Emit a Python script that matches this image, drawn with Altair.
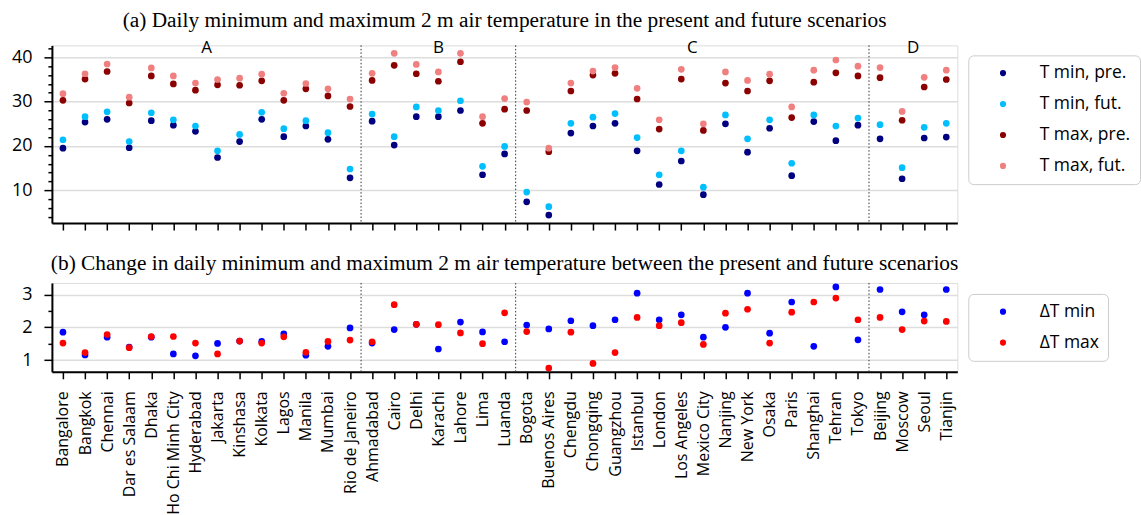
import json
import altair as alt
import pandas as pd

cities = ["Bangalore", "Bangkok", "Chennai", "Dar es Salaam", "Dhaka", "Ho Chi Minh City",
          "Hyderabad", "Jakarta", "Kinshasa", "Kolkata", "Lagos", "Manila", "Mumbai",
          "Rio de Janeiro",
          "Ahmadabad", "Cairo", "Delhi", "Karachi", "Lahore", "Lima", "Luanda",
          "Bogota", "Buenos Aires", "Chengdu", "Chongqing", "Guangzhou", "Istanbul", "London",
          "Los Angeles", "Mexico City", "Nanjing", "New York", "Osaka", "Paris", "Shanghai",
          "Tehran", "Tokyo",
          "Beijing", "Moscow", "Seoul", "Tianjin"]
group_names = ["A", "B", "C", "D"]
group_sizes = [14, 7, 16, 4]

tmin_pre = [19.5, 25.4, 26.0, 19.6, 25.7, 24.7, 23.3, 17.4, 21.0, 26.0, 22.1, 24.5, 21.5, 12.8,
            25.6, 20.2, 26.6, 26.6, 28.0, 13.5, 18.2,
            7.4, 4.4, 22.9, 24.5, 25.1, 18.9, 11.3, 16.6, 9.0, 25.0, 18.6, 24.0, 13.3, 25.5, 21.2, 24.7,
            21.6, 12.6, 21.8, 22.0]
tmin_fut = [21.4, 26.6, 27.7, 21.0, 27.5, 25.9, 24.5, 18.9, 22.6, 27.6, 23.9, 25.7, 23.0, 14.8,
            27.2, 22.1, 28.8, 28.0, 30.2, 15.4, 19.9,
            9.6, 6.3, 25.1, 26.5, 27.3, 21.9, 13.5, 18.9, 10.7, 27.0, 21.6, 25.9, 16.1, 27.0, 24.5, 26.3,
            24.8, 15.1, 24.2, 25.1]
tmax_pre = [30.3, 35.1, 36.8, 29.7, 35.8, 34.0, 32.6, 33.8, 33.7, 34.7, 30.3, 32.9, 31.3, 28.9,
            34.8, 38.2, 36.3, 34.6, 39.0, 25.1, 28.3,
            28.0, 18.7, 32.4, 36.0, 36.4, 30.6, 23.8, 35.1, 23.5, 34.2, 32.4, 34.7, 26.4, 34.4, 36.5, 35.8,
            35.4, 25.8, 33.3, 35.0]
tmax_fut = [31.8, 36.3, 38.5, 31.0, 37.6, 35.8, 34.2, 35.0, 35.3, 36.2, 31.9, 34.1, 32.9, 30.6,
            36.4, 40.9, 38.4, 36.7, 40.9, 26.6, 30.7,
            29.9, 19.5, 34.2, 36.9, 37.7, 33.0, 25.9, 37.3, 25.0, 36.7, 34.8, 36.2, 28.8, 37.1, 39.4, 38.0,
            37.7, 27.8, 35.5, 37.1]
dt_min = [1.85, 1.16, 1.70, 1.40, 1.70, 1.19, 1.13, 1.51, 1.58, 1.57, 1.80, 1.15, 1.42, 1.98,
          1.52, 1.93, 2.09, 1.34, 2.16, 1.86, 1.56,
          2.07, 1.95, 2.20, 2.05, 2.23, 3.04, 2.23, 2.38, 1.70, 2.00, 3.04, 1.82, 2.77, 1.42, 3.23, 1.62,
          3.15, 2.47, 2.38, 3.15]
dt_max = [1.52, 1.23, 1.78, 1.38, 1.72, 1.72, 1.52, 1.19, 1.58, 1.52, 1.71, 1.24, 1.57, 1.61,
          1.56, 2.69, 2.09, 2.08, 1.83, 1.50, 2.44,
          1.87, 0.76, 1.85, 0.90, 1.23, 2.30, 2.05, 2.14, 1.48, 2.43, 2.55, 1.52, 2.46, 2.77, 2.89, 2.23,
          2.30, 1.93, 2.19, 2.18]

top_series = ["T min, pre.", "T min, fut.", "T max, pre.", "T max, fut."]
top_colors = ["#000080", "#00bfff", "#8b0000", "#f08080"]
bot_series = ["\u0394T min", "\u0394T max"]
bot_colors = ["#0000ff", "#ff0000"]

idx = list(range(len(cities)))
top_rows = []
for name, vals in zip(top_series, [tmin_pre, tmin_fut, tmax_pre, tmax_fut]):
    for i, v in zip(idx, vals):
        top_rows.append({"idx": i, "city": cities[i], "series": name, "value": v})
top_df = pd.DataFrame(top_rows)
bot_rows = []
for name, vals in zip(bot_series, [dt_min, dt_max]):
    for i, v in zip(idx, vals):
        bot_rows.append({"idx": i, "city": cities[i], "series": name, "value": v})
bot_df = pd.DataFrame(bot_rows)

# group separators and label positions derived from group sizes
seps, centers = [], []
start = 0
for s in group_sizes:
    centers.append(start + (s - 1) / 2)
    start += s
    seps.append(start - 0.5)
seps = seps[:-1]
sep_df = pd.DataFrame({"idx": seps})
grp_df = pd.DataFrame({"idx": centers, "name": group_names})

FONT = "Open Sans"
W = 907
xscale = alt.Scale(domain=[-0.5, len(cities) - 0.5], nice=False, zero=False)
label_expr = json.dumps(cities) + "[datum.value]"


def x_axis(show_labels):
    kw = dict(values=idx, title=None, grid=False, tickSize=7, tickWidth=1.5, tickColor="black",
              domainColor="black", domainWidth=2, labelOverlap=False, labelFlush=False,
              labelSeparation=0)
    if show_labels:
        kw.update(labels=True, labelExpr=label_expr, labelAngle=270, labelFont=FONT,
                  labelFontSize=16, labelColor="black", labelPadding=12, labelAlign="right",
                  labelBaseline="middle", labelLimit=300)
    else:
        kw.update(labels=False)
    return alt.Axis(**kw)


def y_axis(values, major_test):
    return alt.Axis(values=values, title=None,
                    labelExpr=f"{major_test} ? format(datum.value, 'd') : ''",
                    tickSize={"condition": {"test": major_test, "value": 8}, "value": 4},
                    gridOpacity={"condition": {"test": major_test, "value": 1}, "value": 0},
                    gridColor="#dddddd", gridWidth=1.5, tickWidth=1.5, tickColor="black",
                    domainColor="black", domainWidth=2, labelFont=FONT, labelFontSize=18,
                    labelColor="black", labelPadding=12, labelOverlap=False)


def legend(y_off):
    return alt.Legend(title=None, orient="none", legendX=W + 11, legendY=y_off,
                      labelFont=FONT, labelFontSize=17.5, labelColor="black",
                      symbolType="circle", symbolSize=38, symbolStrokeWidth=0,
                      padding=9, rowPadding=12, symbolOffset=17, labelOffset=28,
                      strokeColor="#cccccc", fillColor="white", cornerRadius=5)


TITLE_KW = dict(font="Liberation Serif", fontSize=21.4, fontWeight="normal", color="black",
                anchor="middle", frame="group", offset=8)

top_x = alt.X("idx:Q", scale=xscale, axis=x_axis(False))
top_y = alt.Scale(domain=[2.6, 42.7], nice=False, zero=False)
top_pts = alt.Chart(top_df).mark_circle(size=45, opacity=1).encode(
    x=top_x,
    y=alt.Y("value:Q", scale=top_y, axis=y_axis(list(range(4, 43, 2)), "datum.value % 10 === 0")),
    color=alt.Color("series:N", scale=alt.Scale(domain=top_series, range=top_colors),
                    legend=legend(10)),
)
top_sep = alt.Chart(sep_df).mark_rule(color="#333333", strokeWidth=1, strokeDash=[1.5, 2]).encode(
    x=top_x)
top_lab = alt.Chart(grp_df).mark_text(font=FONT, fontSize=17, color="black", baseline="alphabetic").encode(
    x=top_x, y=alt.value(7.6), text="name:N")

top = alt.layer(top_pts, top_sep, top_lab).properties(
    width=W, height=178,
    title=alt.TitleParams("(a) Daily minimum and maximum 2 m air temperature in the present and future scenarios",
                          **TITLE_KW))

bot_x = alt.X("idx:Q", scale=xscale, axis=x_axis(True))
bot_y = alt.Scale(domain=[0.645, 3.35], nice=False, zero=False)
bot_pts = alt.Chart(bot_df).mark_circle(size=45, opacity=1).encode(
    x=bot_x,
    y=alt.Y("value:Q", scale=bot_y, axis=y_axis([1, 1.5, 2, 2.5, 3], "datum.value % 1 === 0")),
    color=alt.Color("series:N", scale=alt.Scale(domain=bot_series, range=bot_colors),
                    legend=legend(11)),
)
bot_sep = alt.Chart(sep_df).mark_rule(color="#333333", strokeWidth=1, strokeDash=[1.5, 2]).encode(
    x=bot_x)

bot = alt.layer(bot_pts, bot_sep).properties(
    width=W, height=89,
    title=alt.TitleParams("(b) Change in daily minimum and maximum 2 m air temperature between the present and future scenarios",
                          **TITLE_KW))

chart = alt.vconcat(top, bot, spacing=20).resolve_scale(
    color="independent", y="independent"
).properties(
    padding={"left": 10, "top": 8, "right": 0, "bottom": 0}
).configure_view(stroke=None).configure_axis(labelOverlap=False).configure(background="white")

chart.save("out.html", embed_options={"renderer": "svg", "actions": False})
